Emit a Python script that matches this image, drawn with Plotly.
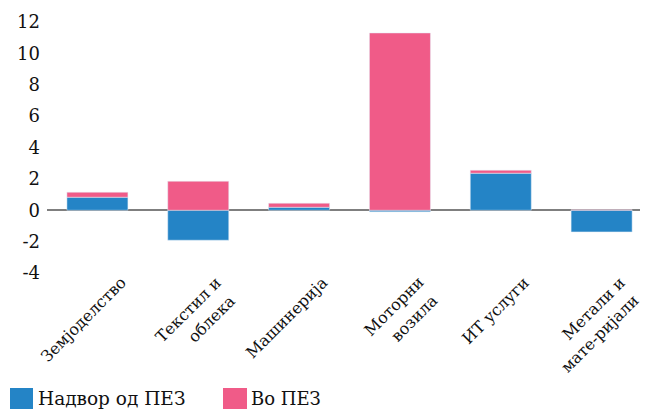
import plotly.graph_objects as go

categories = ["Земјоделство", "Текстил и<br>облека", "Машинерија", "Моторни<br>возила", "ИТ услуги", "Метали и<br>мате-ријали"]
outside_sez = [0.83, -1.91, 0.19, -0.10, 2.36, -1.38]
inside_sez = [0.32, 1.85, 0.26, 11.30, 0.19, 0.03]
series_names = ["Надвор од ПЕЗ", "Во ПЕЗ"]
y_ticks = [-4, -2, 0, 2, 4, 6, 8, 10, 12]
y_tick_labels = ["-4", "-2", "0", "2", "4", "6", "8", "10", "12"]

BLUE = "#2484c6"
PINK = "#f05b88"
FONT = "DejaVu Serif"
INK = "#111111"

x = list(range(len(categories)))

fig = go.Figure()
fig.add_trace(go.Bar(x=x, y=outside_sez, name=series_names[0], marker_color=BLUE, width=0.605, showlegend=False))
fig.add_trace(go.Bar(x=x, y=inside_sez, name=series_names[1], marker_color=PINK, width=0.605, showlegend=False))

# page body has an 8px margin: work in reference pixels minus 8
OFF = 8
W, H = 640, 401
L, T = 47 - OFF, 22 - OFF
B = H - (273 - OFF)
R = 0
pw = W - L - R
ph = H - T - B
unit_px = 100.8

def px(xp):
    return (xp - OFF - L) / pw

def py(yp):
    return (H - B - (yp - OFF)) / ph

shapes = [
    dict(type="rect", xref="paper", yref="paper", x0=px(10), x1=px(33), y0=py(411), y1=py(388),
         fillcolor=BLUE, line_width=0),
    dict(type="rect", xref="paper", yref="paper", x0=px(223), x1=px(247), y0=py(411), y1=py(388),
         fillcolor=PINK, line_width=0),
]
annotations = [
    dict(text=series_names[0], xref="paper", yref="paper", x=px(36), y=py(398), xanchor="left", yanchor="middle",
         showarrow=False, font=dict(family=FONT, size=18.5, color=INK)),
    dict(text=series_names[1], xref="paper", yref="paper", x=px(249), y=py(398), xanchor="left", yanchor="middle",
         showarrow=False, font=dict(family=FONT, size=18, color=INK)),
]
# category labels, rotated -45deg; each line drawn separately, right ends aligned
for i, cat in enumerate(categories):
    lines = cat.split("<br>")
    end_dx = 29 if len(lines) == 1 else 24   # px right of bar centre (line 1 end)
    for k, line in enumerate(lines):
        ex = end_dx + k * 14 + 6
        ey = 279 + k * 18 - 9
        annotations.append(dict(
            text=line, xref="x", yref="paper", x=i + ex / unit_px, y=py(ey),
            xanchor="right", yanchor="top", textangle=-45, showarrow=False,
            font=dict(family=FONT, size=16, color=INK),
        ))

fig.update_layout(
    width=W, height=H,
    barmode="relative",
    margin=dict(l=L, r=R, t=T, b=B, pad=0),
    paper_bgcolor="white", plot_bgcolor="white",
    font=dict(family=FONT, size=17, color=INK),
    shapes=shapes,
    annotations=annotations,
    showlegend=False,
)
fig.update_xaxes(
    range=[-0.5, 5.46], showgrid=False, showline=False, zeroline=False,
    showticklabels=False, ticks="", automargin=False,
)
fig.update_yaxes(
    range=[-4, 12], tickmode="array", tickvals=y_ticks, ticktext=y_tick_labels,
    showgrid=False, showline=False, automargin=False,
    zeroline=True, zerolinecolor="#7f7f7f", zerolinewidth=2, layer="above traces",
    ticks="", ticklabelstandoff=6,
    tickfont=dict(family=FONT, size=18, color=INK),
)

fig.write_html("out.html")
